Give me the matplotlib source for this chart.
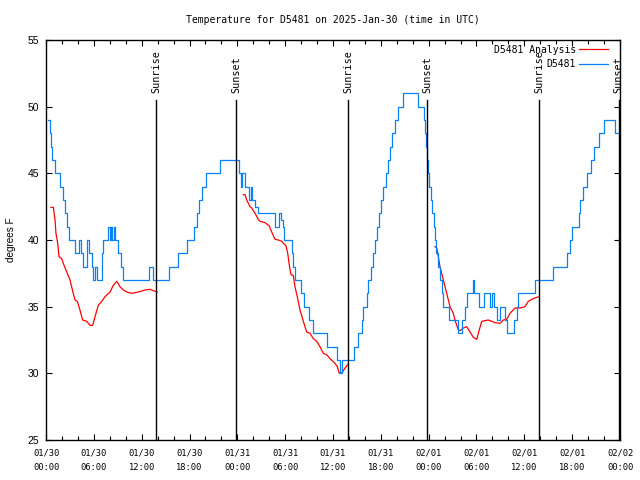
import numpy as np
import matplotlib
matplotlib.use('Agg')
import matplotlib.pyplot as plt
from matplotlib.ticker import MultipleLocator

# %% Data (hours since 2025-01-30 00:00 UTC, degrees F)
title = 'Temperature for D5481 on 2025-Jan-30 (time in UTC)'

# observed temperatures, change points (drawn as steps)
obs_hours = [0.29, 0.44, 0.59, 0.72, 1.13, 1.76, 2.17, 2.38, 2.60, 2.92,
             3.68, 4.18, 4.35, 4.60, 5.11, 5.36, 5.73, 5.93, 6.15, 6.36,
             7.02, 7.19, 7.81, 8.03, 8.15, 8.32, 8.53, 8.69, 9.03, 9.45,
             9.70, 12.88, 13.46, 15.47, 16.60, 17.65, 18.57, 18.90, 19.23, 19.53,
             20.03, 21.83, 24.21, 24.46, 24.62, 24.96, 25.50, 25.71, 25.80, 26.22,
             26.63, 28.73, 29.26, 29.48, 29.77, 29.89, 30.82, 31.02, 31.23, 31.99,
             32.40, 33.03, 33.53, 35.21, 36.47, 36.92, 37.13, 38.64, 39.17, 39.60,
             39.80, 40.23, 40.43, 40.77, 41.02, 41.27, 41.52, 41.77, 42.02, 42.27,
             42.59, 42.90, 43.15, 43.40, 43.78, 44.15, 44.82, 46.71, 47.42, 47.54,
             47.67, 47.79, 47.96, 48.08, 48.29, 48.48, 48.71, 48.80, 48.98, 49.21,
             49.42, 49.64, 49.84, 50.59, 51.68, 52.15, 52.57, 52.77, 53.52, 53.69,
             54.32, 54.94, 55.70, 55.91, 56.20, 56.54, 56.95, 57.57, 57.79, 58.74,
             59.04, 59.24, 61.34, 63.64, 65.31, 65.73, 65.94, 66.90, 66.98, 67.40,
             67.82, 68.33, 68.74, 69.41, 69.99, 71.37, 72.00]
obs_temp = [49, 48, 47, 46, 45, 44, 43, 42, 41, 40,
            39, 40, 39, 38, 40, 39, 38, 37, 38, 37,
            39, 40, 41, 40, 41, 40, 41, 40, 39, 38,
            37, 38, 37, 38, 39, 40, 41, 42, 43, 44,
            45, 46, 45, 44, 45, 44, 43, 44, 43, 42.5,
            42, 41, 42, 41.5, 41, 40, 39, 38, 37, 36,
            35, 34, 33, 32, 31, 30, 31, 32, 33, 34,
            35, 36, 37, 38, 39, 40, 41, 42, 43, 44,
            45, 46, 47, 48, 49, 50, 51, 50, 49, 48,
            47, 46, 45, 44, 43, 42, 41, 40, 39, 38,
            37, 36, 35, 34, 33, 34, 35, 36, 37, 36,
            35, 36, 35, 36, 35, 34, 35, 34, 33, 34,
            35, 36, 37, 38, 39, 40, 41, 42, 43, 44,
            45, 46, 47, 48, 49, 48, 48]

# analysis, three pieces
ana1_hours = [0.63, 0.92, 1.13, 1.25, 1.47, 1.63, 1.97, 2.17, 2.60, 3.01,
              3.42, 3.64, 3.93, 4.26, 4.60, 5.11, 5.52, 5.86, 6.15, 6.56,
              6.99, 7.40, 8.03, 8.44, 8.87, 9.28, 9.70, 10.12, 10.75, 11.58,
              12.42, 13.05, 13.46, 13.96]
ana1_temp = [42.45, 42.45, 41.5, 40.5, 39.75, 38.75, 38.6, 38.25, 37.6, 37.0,
             36.0, 35.5, 35.4, 34.75, 34.0, 33.9, 33.6, 33.6, 34.25, 35.1,
             35.4, 35.75, 36.1, 36.6, 36.9, 36.5, 36.25, 36.1, 36.0, 36.1,
             36.25, 36.3, 36.2, 36.1]
ana2_hours = [24.75, 24.96, 25.18, 25.59, 25.80, 26.22, 26.63, 26.84, 27.47, 28.01,
              28.31, 28.73, 29.14, 29.57, 30.11, 30.32, 30.52, 30.73, 31.02, 31.23,
              31.52, 31.86, 32.28, 32.70, 33.12, 33.53, 33.96, 34.37, 34.78, 35.21,
              35.62, 36.25, 36.54, 36.79, 37.09, 37.51, 37.92]
ana2_temp = [43.4, 43.4, 43.0, 42.5, 42.4, 42.0, 41.55, 41.4, 41.3, 41.05,
             40.6, 40.05, 40.0, 39.9, 39.55, 39.0, 38.1, 37.4, 37.35, 36.5,
             35.75, 34.75, 33.9, 33.1, 33.0, 32.6, 32.4, 32.0, 31.5, 31.4,
             31.1, 30.75, 30.5, 30.0, 30.0, 30.4, 30.7]
ana3_hours = [48.80, 49.01, 49.21, 49.42, 49.84, 50.26, 50.68, 50.89, 51.09, 51.30,
              51.52, 51.72, 51.93, 52.35, 52.77, 53.19, 53.60, 54.03, 54.23, 54.65,
              55.07, 55.48, 55.91, 56.32, 56.95, 57.36, 57.79, 58.20, 58.83, 59.46,
              60.08, 60.50, 60.93, 61.55, 61.88]
ana3_temp = [39.5, 39.4, 38.75, 38.0, 37.0, 36.0, 35.0, 34.75, 34.5, 34.0,
             33.6, 33.25, 33.2, 33.4, 33.5, 33.1, 32.7, 32.55, 33.0, 33.9,
             33.95, 34.0, 33.9, 33.8, 33.75, 34.0, 34.05, 34.5, 34.9, 34.9,
             35.0, 35.4, 35.55, 35.7, 35.75]

sunrise_hours = [13.85, 37.9, 61.9]
sunset_hours = [23.87, 47.85, 71.85]

xtick_hours = list(range(0, 73, 6))
xtick_labels = ['01/30\n00:00', '01/30\n06:00', '01/30\n12:00', '01/30\n18:00',
                '01/31\n00:00', '01/31\n06:00', '01/31\n12:00', '01/31\n18:00',
                '02/01\n00:00', '02/01\n06:00', '02/01\n12:00', '02/01\n18:00',
                '02/02\n00:00']

# %% Plot
mono = 'DejaVu Sans Mono'
sans = 'Liberation Sans'
blue = '#0a80f5'

fig = plt.figure(figsize=(6.4, 4.8), dpi=100)
ax = fig.add_axes([46/640, 40/480, 574/640, 400/480])

ax.plot(ana1_hours, ana1_temp, color='red', lw=0.9, label='D5481 Analysis')
ax.plot(ana2_hours, ana2_temp, color='red', lw=0.9)
ax.plot(ana3_hours, ana3_temp, color='red', lw=0.9)
ax.plot(obs_hours, obs_temp, color=blue, lw=0.9, drawstyle='steps-post', label='D5481')

for h in sunrise_hours:
    ax.plot([h, h], [25, 50.5], color='black', lw=1.0)
    ax.text(h, 51.0, 'Sunrise', rotation=90, ha='center', va='bottom',
            family=mono, fontsize=7.3)
for h in sunset_hours:
    ax.plot([h, h], [25, 50.5], color='black', lw=1.0)
    ax.text(h, 51.0, 'Sunset', rotation=90, ha='center', va='bottom',
            family=mono, fontsize=7.3)

ax.set_xlim(0, 72)
ax.set_ylim(25, 55)
ax.set_xticks(xtick_hours)
ax.set_xticklabels(xtick_labels, family=mono, fontsize=6.3, linespacing=1.75)
ax.xaxis.set_minor_locator(MultipleLocator(2))
ax.set_yticks(range(25, 56, 5))
for lab in ax.get_yticklabels():
    lab.set_family(sans)
    lab.set_fontsize(7.5)
ax.tick_params(which='both', direction='in', top=True, right=True, width=0.8)
ax.tick_params(which='major', length=4.5)
ax.tick_params(which='minor', length=3)
ax.tick_params(axis='x', pad=6)
ax.tick_params(axis='y', pad=5)
for s in ax.spines.values():
    s.set_linewidth(1.0)

fig.text(333/640, 1 - 20/480, title, ha='center', va='center', family=mono, fontsize=7)
fig.text(11/640, 1 - 240/480, 'degrees F', rotation=90, ha='center', va='center',
         family=sans, fontsize=7.2)

leg = ax.legend(loc='upper right', bbox_to_anchor=(1 - 7/574, 1.0), frameon=False,
                markerfirst=False, prop={'family': mono, 'size': 7}, handlelength=3.0,
                handletextpad=0.3, labelspacing=0.45, borderaxespad=0.3,
                borderpad=0.2)

fig.savefig('out.png', dpi=100)
